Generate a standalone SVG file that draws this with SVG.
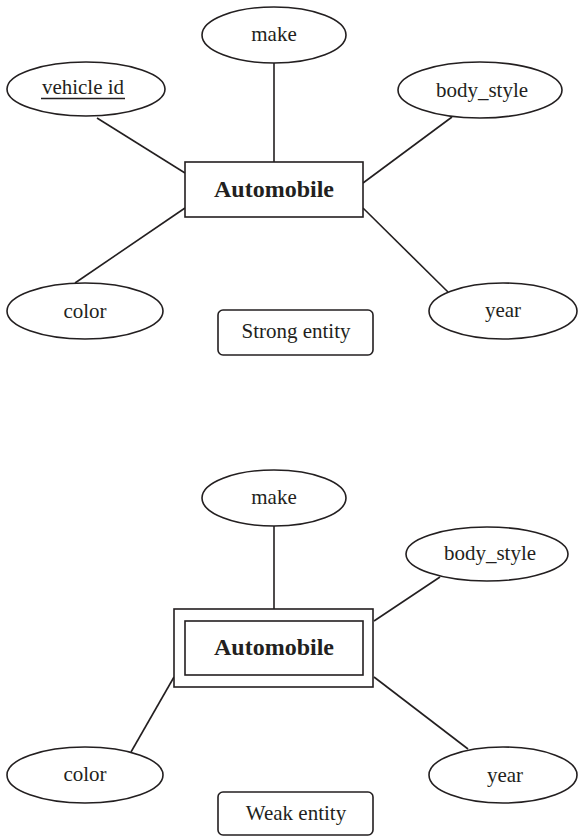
<svg xmlns="http://www.w3.org/2000/svg" width="578" height="837" viewBox="0 0 578 837">
  <style>
    .shape { fill: #ffffff; stroke: #231f20; stroke-width: 1.6; }
    .conn line { stroke: #231f20; stroke-width: 1.6; }
    text { font-family: "Liberation Serif", "Times New Roman", serif; font-size: 21px; fill: #231f20; text-anchor: middle; }
    .entity { font-weight: bold; font-size: 24px; }
  </style>

  <!-- Strong entity diagram -->
  <g id="connectors-strong" class="conn">
    <line x1="274" y1="63" x2="274" y2="162"/>
    <line x1="97" y1="118" x2="185" y2="173"/>
    <line x1="452" y1="117" x2="363" y2="183"/>
    <line x1="185" y1="208" x2="75" y2="283"/>
    <line x1="363" y1="208" x2="448" y2="292"/>
  </g>

  <g id="strong-automobile">
    <rect class="shape" x="185" y="162" width="178" height="55"/>
    <text class="entity" x="274" y="197">Automobile</text>
  </g>
  <g id="strong-make">
    <ellipse class="shape" cx="274" cy="35" rx="72" ry="28"/>
    <text x="274" y="41">make</text>
  </g>
  <g id="strong-vehicle-id">
    <ellipse class="shape" cx="86" cy="89" rx="79" ry="27"/>
    <text x="83" y="94">vehicle id</text>
    <line x1="41" y1="98.5" x2="125" y2="98.5" stroke="#231f20" stroke-width="1.5"/>
  </g>
  <g id="strong-body-style">
    <ellipse class="shape" cx="480" cy="90" rx="82" ry="28"/>
    <text x="482" y="97">body_style</text>
  </g>
  <g id="strong-color">
    <ellipse class="shape" cx="85" cy="311" rx="78" ry="28"/>
    <text x="85" y="318">color</text>
  </g>
  <g id="strong-year">
    <ellipse class="shape" cx="503" cy="311" rx="74" ry="28"/>
    <text x="503" y="317">year</text>
  </g>
  <g id="strong-label">
    <rect class="shape" x="218" y="310" width="155" height="45" rx="5"/>
    <text x="296" y="338">Strong entity</text>
  </g>

  <!-- Weak entity diagram -->
  <g id="connectors-weak" class="conn">
    <line x1="274" y1="526" x2="274" y2="609"/>
    <line x1="440" y1="577" x2="374" y2="621"/>
    <line x1="174" y1="677" x2="131" y2="752"/>
    <line x1="374" y1="677" x2="468" y2="749"/>
  </g>

  <g id="weak-automobile">
    <rect class="shape" x="174" y="609" width="199" height="78"/>
    <rect class="shape" x="185" y="621" width="178" height="54"/>
    <text class="entity" x="274" y="655">Automobile</text>
  </g>
  <g id="weak-make">
    <ellipse class="shape" cx="274" cy="498" rx="72" ry="28"/>
    <text x="274" y="504">make</text>
  </g>
  <g id="weak-body-style">
    <ellipse class="shape" cx="487" cy="554" rx="81" ry="27"/>
    <text x="490" y="560">body_style</text>
  </g>
  <g id="weak-color">
    <ellipse class="shape" cx="85" cy="775" rx="78" ry="28"/>
    <text x="85" y="781">color</text>
  </g>
  <g id="weak-year">
    <ellipse class="shape" cx="503" cy="775" rx="74" ry="28"/>
    <text x="505" y="782">year</text>
  </g>
  <g id="weak-label">
    <rect class="shape" x="218" y="792" width="155" height="43" rx="5"/>
    <text x="296" y="820">Weak entity</text>
  </g>
</svg>
